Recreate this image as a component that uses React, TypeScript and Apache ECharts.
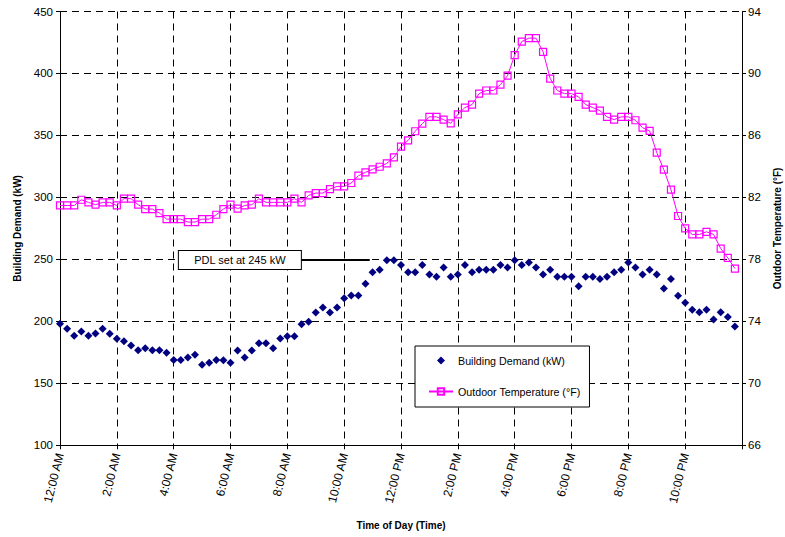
import React, { useEffect, useRef } from "react";
import * as echarts from "echarts";

const tickLabels = [
  "12:00 AM", "2:00 AM", "4:00 AM", "6:00 AM", "8:00 AM", "10:00 AM",
  "12:00 PM", "2:00 PM", "4:00 PM", "6:00 PM", "8:00 PM", "10:00 PM",
];

// Building demand (kW), 15-minute intervals from 12:00 AM
const demand = [
  198, 194, 188.3, 191.8, 188.3, 190.2, 194, 190, 185.9, 184, 180.5, 176.7, 178.4, 176.7, 176.7, 174.6,
  168.9, 168.9, 170.8, 173, 164.9, 166.7, 168.9, 168.6, 166.7, 176.4, 170.8, 176.4, 182.4, 182.4, 178.4, 186.1,
  188, 188, 197.7, 199.6, 207.1, 211.2, 207.1, 211.2, 218.7, 220.9, 220.9, 230.3, 239.7, 241.6, 249.4, 249.4,
  245.4, 239.7, 239.7, 245.4, 237.8, 236, 243.5, 236, 237.8, 245.4, 239.7, 241.6, 241.6, 241.6, 245.4, 243.5,
  249.4, 245.4, 247.5, 243.5, 237.8, 241.6, 236, 236, 236, 228.4, 236, 236, 234.1, 236, 239.7, 241.6,
  247.5, 243.5, 237.8, 241.6, 237.8, 226.5, 234.1, 220.6, 215, 209.3, 207.4, 209.3, 201.5, 207.4, 203.6, 195.8,
];

// Outdoor temperature (°F), 15-minute intervals from 12:00 AM
const temperature = [
  81.48, 81.48, 81.48, 81.85, 81.68, 81.53, 81.68, 81.68, 81.48, 81.92, 81.92, 81.53, 81.25, 81.25, 80.99, 80.6,
  80.6, 80.6, 80.41, 80.41, 80.6, 80.6, 80.88, 81.25, 81.53, 81.27, 81.48, 81.53, 81.92, 81.68, 81.68, 81.68,
  81.68, 81.92, 81.68, 82.13, 82.28, 82.28, 82.54, 82.71, 82.71, 82.93, 83.4, 83.62, 83.81, 83.98, 84.2, 84.58,
  85.28, 85.68, 86.27, 86.76, 87.2, 87.2, 87.02, 86.78, 87.36, 87.8, 87.99, 88.7, 88.9, 88.9, 89.28, 89.86,
  91.18, 92.06, 92.28, 92.28, 91.4, 89.67, 88.9, 88.7, 88.7, 88.49, 87.99, 87.8, 87.6, 87.2, 87.02, 87.2,
  87.2, 86.98, 86.5, 86.29, 84.89, 83.79, 82.5, 80.8, 80.0, 79.61, 79.61, 79.78, 79.61, 78.7, 78.1, 77.41,
];

const pdlLabel = "PDL set at 245 kW";
const pdlLineStart = 8.5; // hours
const pdlLineEnd = 10.9; // hours
const pdlLevel = 249.6; // kW (drawn level)
const pdlBoxCenter = 6.33; // hours

const FONT = "'Liberation Sans', Arial, sans-serif";
const DIAMOND_ICON = "path://M5,0L10,5L5,10L0,5Z";

export default function App() {
  const ref = useRef<HTMLDivElement>(null);

  useEffect(() => {
    if (!ref.current) return;
    const chart = echarts.init(ref.current, null, { renderer: "svg" });
    const hours = demand.map((_, i) => i * 0.25);

    chart.setOption({
      animation: false,
      backgroundColor: "#fff",
      textStyle: { fontFamily: FONT },
      grid: {
        left: 60,
        right: 43,
        top: 11.5,
        bottom: 91.7,
        containLabel: false,
        outerBoundsMode: "none",
      },
      legend: {
        orient: "vertical",
        left: 415,
        top: 346,
        backgroundColor: "#fff",
        borderColor: "#000",
        borderWidth: 1,
        padding: [9, 9, 10, 13],
        itemWidth: 24,
        itemHeight: 8,
        itemGap: 20,
        symbolKeepAspect: true,
        textStyle: { fontSize: 10.7, color: "#000", fontFamily: FONT },
        data: [
          { name: "Building Demand (kW)", icon: DIAMOND_ICON },
          { name: "Outdoor Temperature (°F)" },
        ],
      },
      xAxis: {
        type: "value",
        min: 0,
        max: 24,
        interval: 2,
        name: "Time of Day (Time)",
        nameLocation: "middle",
        nameGap: 75,
        nameTextStyle: { fontSize: 10, fontWeight: "bold", color: "#000", fontFamily: FONT },
        axisLine: { show: true, lineStyle: { color: "#000", width: 1 } },
        axisTick: { show: true, length: 4, lineStyle: { color: "#000" } },
        axisLabel: {
          rotate: 76,
          margin: 8,
          fontSize: 12,
          color: "#000",
          fontFamily: FONT,
          formatter: (v: number) => {
            const i = Math.round(v / 2);
            return i < tickLabels.length ? tickLabels[i] : "";
          },
        },
        splitLine: { show: true, lineStyle: { color: "#000", type: [7, 5], width: 1 } },
      },
      yAxis: [
        {
          type: "value",
          min: 100,
          max: 450,
          interval: 50,
          name: "Building Demand (kW)",
          nameLocation: "middle",
          nameGap: 38,
          nameTextStyle: { fontSize: 10, fontWeight: "bold", color: "#000", fontFamily: FONT },
          axisLine: { show: true, lineStyle: { color: "#000", width: 1 } },
          axisTick: { show: true, length: 4, lineStyle: { color: "#000" } },
          axisLabel: { fontSize: 11.5, color: "#000", margin: 7, fontFamily: FONT },
          splitLine: { show: true, lineStyle: { color: "#000", type: [7, 5], width: 1 } },
        },
        {
          type: "value",
          position: "right",
          min: 66,
          max: 94,
          interval: 4,
          name: "Outdoor Temperature (°F)",
          nameLocation: "middle",
          nameGap: 30,
          nameTextStyle: { fontSize: 10, fontWeight: "bold", color: "#000", fontFamily: FONT },
          axisLine: { show: true, lineStyle: { color: "#000", width: 1 } },
          axisTick: { show: true, length: 4, lineStyle: { color: "#000" } },
          axisLabel: { fontSize: 11.5, color: "#000", margin: 6, fontFamily: FONT },
          splitLine: { show: false },
        },
      ],
      series: [
        {
          name: "Building Demand (kW)",
          type: "scatter",
          yAxisIndex: 0,
          symbol: "diamond",
          symbolSize: 8,
          itemStyle: { color: "#000080", opacity: 1 },
          data: hours.map((h, i) => [h, demand[i]]),
          z: 3,
          markLine: {
            silent: true,
            symbol: ["none", "none"],
            label: { show: false },
            lineStyle: { color: "#000", width: 2, type: "solid" },
            data: [[{ coord: [pdlLineStart, pdlLevel] }, { coord: [pdlLineEnd, pdlLevel] }]],
          },
          markPoint: {
            silent: true,
            symbol: "circle",
            symbolSize: 0,
            data: [
              {
                coord: [pdlBoxCenter, pdlLevel],
                symbol: "circle",
                symbolSize: 0,
                itemStyle: { color: "rgba(0,0,0,0)" },
                label: {
                  show: true,
                  position: "inside",
                  formatter: pdlLabel,
                  color: "#000",
                  fontSize: 11,
                  fontFamily: FONT,
                  backgroundColor: "#fff",
                  borderColor: "#000",
                  borderWidth: 1,
                  width: 116,
                  height: 12,
                  lineHeight: 12,
                  padding: [3, 3, 3, 3],
                  align: "center",
                  verticalAlign: "middle",
                },
              },
            ],
          },
        },
        {
          name: "Outdoor Temperature (°F)",
          type: "line",
          yAxisIndex: 1,
          symbol: "rect",
          symbolSize: 7,
          showAllSymbol: true,
          itemStyle: { color: "rgba(255,255,255,0)", borderColor: "#FF00FF", borderWidth: 1.2 },
          lineStyle: { color: "#FF00FF", width: 1 },
          data: hours.map((h, i) => [h, temperature[i]]),
          z: 2,
        },
      ],
    });

    return () => chart.dispose();
  }, []);

  return (
    <div
      ref={ref}
      style={{ position: "fixed", left: 0, top: 0, width: 785, height: 537 }}
    />
  );
}
